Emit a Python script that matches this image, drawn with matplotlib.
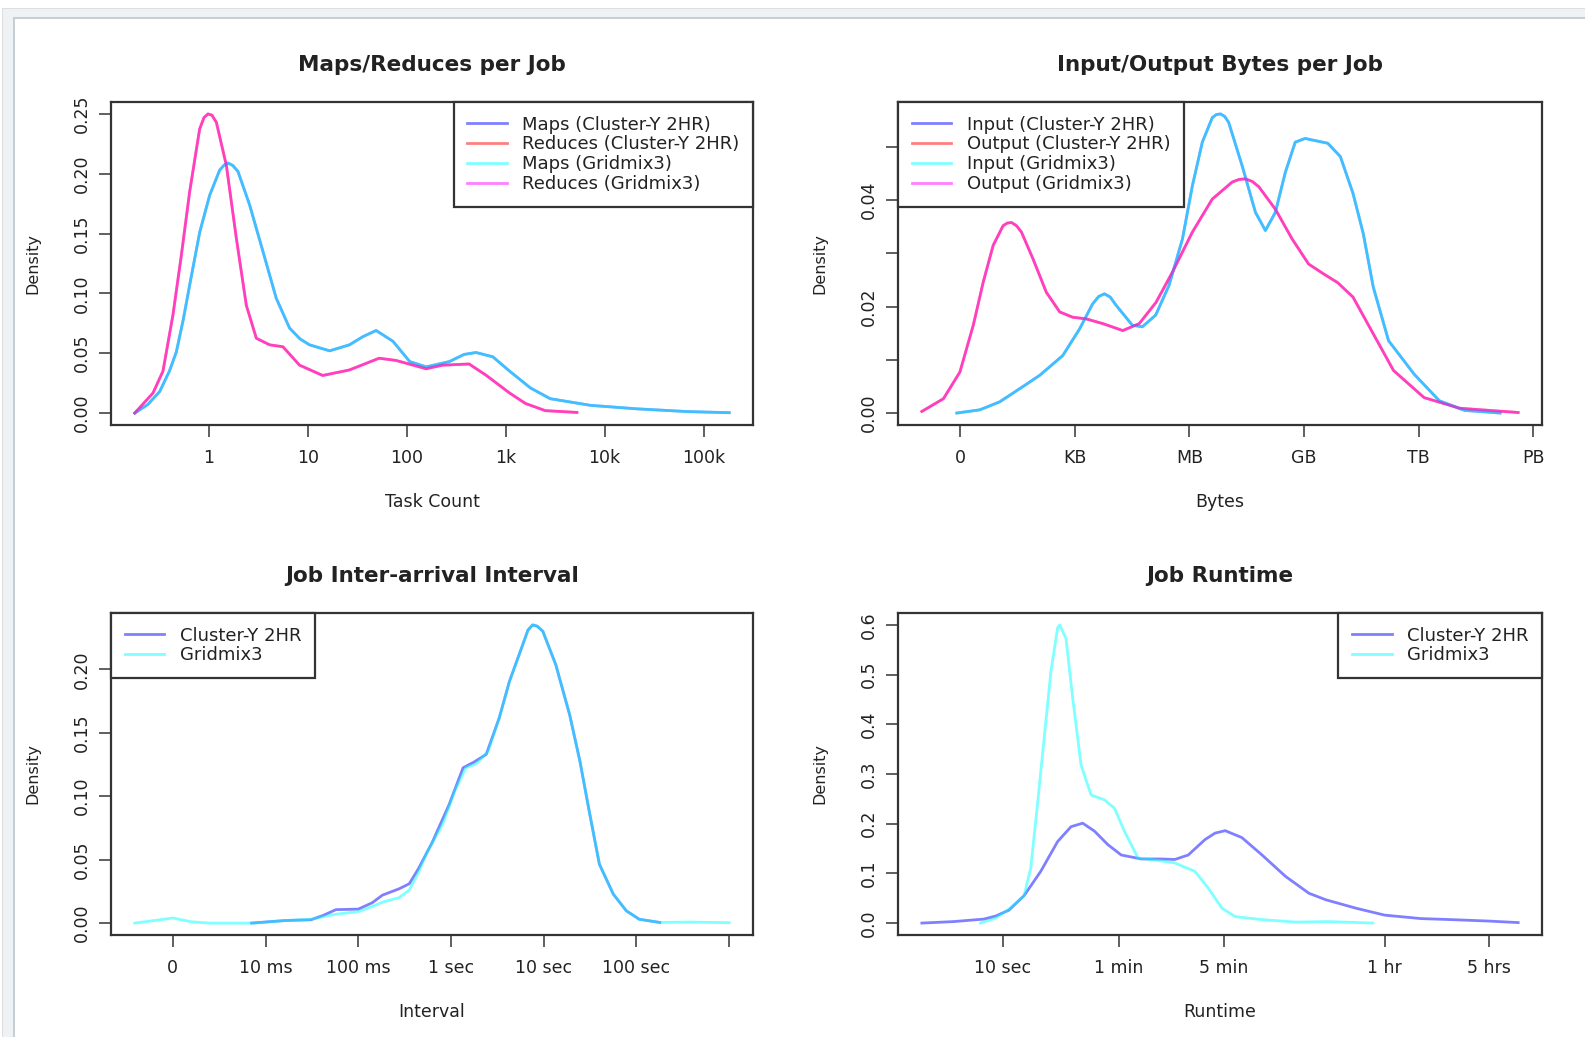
import matplotlib
matplotlib.use("Agg")
import matplotlib.pyplot as plt
from matplotlib.patches import Rectangle
import numpy as np

# Maps/Reduces per Job  (x = log10 of task count)
maps_x = [-0.75, -0.62, -0.498, -0.40, -0.33, -0.26, -0.195, -0.094, 0.007, 0.108, 0.15,
          0.192, 0.24, 0.293, 0.411, 0.546, 0.68, 0.815, 0.92, 1.017, 1.22, 1.42, 1.56, 1.69,
          1.86, 2.03, 2.196, 2.43, 2.58, 2.70, 2.87, 3.04, 3.25, 3.45, 3.86, 4.33, 4.84, 5.26]
maps_y = [0.0, 0.007, 0.018, 0.035, 0.051, 0.078, 0.107, 0.151, 0.182, 0.203, 0.207,
          0.209, 0.207, 0.202, 0.174, 0.135, 0.096, 0.071, 0.062, 0.057, 0.052, 0.057, 0.064, 0.069,
          0.060, 0.043, 0.0386, 0.043, 0.049, 0.0506, 0.047, 0.035, 0.021, 0.012, 0.0064, 0.0035,
          0.0012, 0.0003]
reduces_x = [-0.75, -0.566, -0.465, -0.364, -0.279, -0.195, -0.094, -0.05, -0.01, 0.03,
             0.075, 0.176, 0.277, 0.378, 0.479, 0.614, 0.748, 0.916, 1.15, 1.42, 1.72, 1.89,
             2.196, 2.36, 2.63, 2.80, 3.04, 3.2, 3.4, 3.72]
reduces_y = [0.0, 0.0167, 0.035, 0.082, 0.132, 0.185, 0.2375, 0.247, 0.25, 0.249,
             0.243, 0.207, 0.146, 0.090, 0.0625, 0.057, 0.0554, 0.040, 0.0314, 0.036, 0.0458,
             0.044, 0.037, 0.040, 0.041, 0.0317, 0.0167, 0.008, 0.002, 0.0005]
task_ticks = [0, 1, 2, 3, 4, 5]
task_labels = ["1", "10", "100", "1k", "10k", "100k"]

# Input/Output Bytes per Job  (x = log10 of bytes)
input_x = [-0.08, 0.52, 1.04, 1.57, 2.09, 2.69, 3.13, 3.47, 3.63, 3.78, 3.93, 4.08, 4.51,
           4.77, 5.12, 5.47, 5.82, 6.08, 6.34, 6.6, 6.71, 6.82, 6.93, 7.03, 7.38, 7.73, 7.99,
           8.25, 8.51, 8.77, 9.03, 9.22, 9.62, 9.95, 10.28, 10.55, 10.81, 11.21, 11.88, 12.54,
           13.2, 14.13]
input_y = [0.0, 0.0006, 0.0021, 0.0046, 0.0071, 0.0108, 0.0158, 0.0205, 0.0219, 0.0224,
           0.0218, 0.0203, 0.0165, 0.0162, 0.0184, 0.024, 0.0327, 0.0427, 0.0509, 0.0555,
           0.0561, 0.0562, 0.0557, 0.0546, 0.0465, 0.0377, 0.0343, 0.0377, 0.0452, 0.0509,
           0.0516, 0.0513, 0.0507, 0.0482, 0.0413, 0.0337, 0.0237, 0.0136, 0.0073, 0.0023,
           0.0005, 0.0]
output_x = [-0.995, -0.43, 0.0, 0.35, 0.61, 0.87, 1.13, 1.24, 1.35, 1.48, 1.61, 1.91, 2.26,
            2.61, 2.95, 3.3, 3.74, 4.26, 4.69, 5.13, 5.56, 6.08, 6.6, 7.12, 7.3, 7.47, 7.65,
            7.82, 8.25, 8.69, 9.12, 9.5, 9.88, 10.28, 10.81, 11.34, 12.14, 13.07, 14.6]
output_y = [0.0003, 0.0027, 0.0077, 0.0165, 0.0246, 0.0315, 0.0352, 0.0357, 0.0358, 0.0352,
            0.034, 0.029, 0.0227, 0.019, 0.018, 0.0177, 0.0168, 0.0155, 0.0168, 0.0208, 0.0265,
            0.034, 0.0402, 0.0434, 0.0439, 0.0440, 0.0435, 0.0425, 0.0383, 0.0327, 0.0280,
            0.0262, 0.0245, 0.0218, 0.0149, 0.0080, 0.0029, 0.0009, 0.0001]
byte_ticks = [0, 3, 6, 9, 12, 15]
byte_labels = ["0", "KB", "MB", "GB", "TB", "PB"]

# Job Inter-arrival Interval  (x = log10 of milliseconds)
arr_cluster_x = [0.85, 1.21, 1.49, 1.62, 1.76, 2.0, 2.15, 2.26, 2.44, 2.55, 2.65, 2.8,
                 2.98, 3.13, 3.25, 3.38, 3.52, 3.63, 3.76, 3.83, 3.88, 3.93, 3.99, 4.13,
                 4.28, 4.39, 4.49, 4.6, 4.75, 4.89, 5.03, 5.25]
arr_cluster_y = [0.0, 0.002, 0.0026, 0.006, 0.0106, 0.011, 0.016, 0.022, 0.027, 0.031,
                 0.043, 0.064, 0.0935, 0.1224, 0.127, 0.133, 0.1617, 0.1905, 0.2167, 0.231,
                 0.235, 0.234, 0.23, 0.2036, 0.164, 0.1276, 0.0883, 0.0464, 0.0228, 0.0097,
                 0.003, 0.0005]
arr_grid_x = [-0.41, -0.2, 0.0, 0.2, 0.4, 0.88, 1.21, 1.49, 1.62, 1.76, 2.0, 2.15, 2.26,
              2.44, 2.55, 2.65, 2.73, 2.91, 3.04, 3.16, 3.27, 3.4, 3.52, 3.63, 3.76, 3.83,
              3.88, 3.93, 3.99, 4.13, 4.28, 4.39, 4.49, 4.6, 4.75, 4.89, 5.03, 5.25, 5.57, 6.0]
arr_grid_y = [0.0, 0.002, 0.004, 0.001, 0.0, 0.0, 0.002, 0.003, 0.005, 0.007, 0.009, 0.013,
              0.0165, 0.020, 0.026, 0.040, 0.054, 0.078, 0.104, 0.1224, 0.1255, 0.1355,
              0.1617, 0.1905, 0.2167, 0.231, 0.235, 0.234, 0.23, 0.2036, 0.164, 0.1276,
              0.0883, 0.0464, 0.0228, 0.0097, 0.003, 0.0005, 0.0008, 0.0003]
arr_ticks = [0, 1, 2, 3, 4, 5, 6]
arr_labels = ["0", "10 ms", "100 ms", "1 sec", "10 sec", "100 sec", ""]

# Job Runtime  (x = log10 of seconds)
rt_cluster_x = [0.457, 0.67, 0.872, 0.95, 1.04, 1.141, 1.253, 1.366, 1.456, 1.534, 1.613,
                1.702, 1.792, 1.927, 2.061, 2.151, 2.241, 2.353, 2.42, 2.488, 2.6, 2.735,
                2.892, 3.049, 3.161, 3.363, 3.556, 3.8, 4.0, 4.255, 4.45]
rt_cluster_y = [0.0, 0.003, 0.008, 0.014, 0.026, 0.055, 0.104, 0.164, 0.194, 0.201, 0.185,
                0.158, 0.137, 0.129, 0.129, 0.128, 0.137, 0.168, 0.181, 0.186, 0.172, 0.137,
                0.094, 0.060, 0.047, 0.030, 0.016, 0.009, 0.007, 0.004, 0.001]
rt_grid_x = [0.85, 0.95, 1.04, 1.141, 1.186, 1.231, 1.276, 1.321, 1.366, 1.38, 1.422,
             1.467, 1.523, 1.59, 1.68, 1.747, 1.815, 1.904, 2.017, 2.151, 2.286, 2.376,
             2.466, 2.555, 2.735, 2.959, 3.184, 3.476]
rt_grid_y = [0.0, 0.01, 0.028, 0.055, 0.11, 0.238, 0.372, 0.506, 0.594, 0.600, 0.573,
             0.453, 0.318, 0.258, 0.248, 0.231, 0.184, 0.131, 0.127, 0.121, 0.104, 0.070,
             0.030, 0.013, 0.007, 0.002, 0.003, 0.0]
rt_ticks = list(np.log10([10, 60, 300, 3600, 18000]))
rt_labels = ["10 sec", "1 min", "5 min", "1 hr", "5 hrs"]

W, H = 1585, 1037
fig = plt.figure(figsize=(W / 100, H / 100), dpi=100)
plt.rcParams['font.family'] = ['DejaVu Sans']
TXT = '#222222'


def px_rect(x0, y0, w, h, color):
    fig.add_artist(Rectangle((x0 / W, 1 - (y0 + h) / H), w / W, h / H,
                             transform=fig.transFigure, color=color, lw=0, zorder=-5))


# window frame of the screenshot
px_rect(2, 8, W, H, '#dedede')
px_rect(3, 9, W, H, '#eef2f5')
px_rect(13, 17, W, H, '#c6ced6')
px_rect(15, 19, W, H, 'white')


def make_ax(left, top, right, bottom):
    return fig.add_axes([left / W, 1 - bottom / H, (right - left) / W, (bottom - top) / H])


def r_style(ax, title, xlabel, xs, ys, xticks, xlabels, yticks, ylabels):
    allx = np.concatenate([np.asarray(v) for v in xs])
    ally = np.concatenate([np.asarray(v) for v in ys])
    dx = 0.04 * (allx.max() - allx.min())
    dy = 0.04 * (ally.max() - ally.min())
    ax.set_xlim(allx.min() - dx, allx.max() + dx)
    ax.set_ylim(ally.min() - dy, ally.max() + dy)
    ax.set_xticks(xticks)
    ax.set_xticklabels(xlabels)
    ax.set_yticks(yticks)
    ax.set_yticklabels(ylabels, rotation=90, va='center')
    ax.tick_params(axis='both', direction='out', length=8.5, width=1.2, color='#444444',
                   labelsize=12.5, labelcolor=TXT)
    ax.tick_params(axis='x', pad=9)
    ax.tick_params(axis='y', pad=6)
    for s in ax.spines.values():
        s.set_color('#333333')
        s.set_linewidth(1.6)
    ax.set_title(title, fontsize=15.5, fontweight='bold', color=TXT, pad=22)
    ax.set_xlabel(xlabel, fontsize=12.5, color=TXT)
    ax.set_ylabel('Density', fontsize=11.5, color=TXT)
    ax.xaxis.set_label_coords(0.5, -0.21)
    ax.yaxis.set_label_coords(-0.11, 0.5)


def r_legend(ax, loc):
    leg = ax.legend(loc=loc, borderaxespad=0, fancybox=False, framealpha=1,
                    edgecolor='#333333', fontsize=13, handlelength=2.2,
                    handletextpad=0.85, labelspacing=0.1, borderpad=0.75)
    leg.get_frame().set_linewidth(1.6)
    for t in leg.get_texts():
        t.set_color(TXT)


A = 0.5
LW = 2.0

# panel 1
ax1 = make_ax(111, 102, 753, 425)
ax1.plot(maps_x, maps_y, color='blue', alpha=A, lw=LW, label='Maps (Cluster-Y 2HR)')
ax1.plot(reduces_x, reduces_y, color='red', alpha=A, lw=LW, label='Reduces (Cluster-Y 2HR)')
ax1.plot(maps_x, maps_y, color='cyan', alpha=A, lw=LW, label='Maps (Gridmix3)')
ax1.plot(reduces_x, reduces_y, color='magenta', alpha=A, lw=LW, label='Reduces (Gridmix3)')
r_style(ax1, 'Maps/Reduces per Job', 'Task Count', [maps_x, reduces_x], [maps_y, reduces_y],
        task_ticks, task_labels, [0, 0.05, 0.10, 0.15, 0.20, 0.25],
        ['0.00', '0.05', '0.10', '0.15', '0.20', '0.25'])
r_legend(ax1, 'upper right')

# panel 2
ax2 = make_ax(898, 102, 1542, 425)
ax2.plot(input_x, input_y, color='blue', alpha=A, lw=LW, label='Input (Cluster-Y 2HR)')
ax2.plot(output_x, output_y, color='red', alpha=A, lw=LW, label='Output (Cluster-Y 2HR)')
ax2.plot(input_x, input_y, color='cyan', alpha=A, lw=LW, label='Input (Gridmix3)')
ax2.plot(output_x, output_y, color='magenta', alpha=A, lw=LW, label='Output (Gridmix3)')
r_style(ax2, 'Input/Output Bytes per Job', 'Bytes', [input_x, output_x], [input_y, output_y],
        byte_ticks, byte_labels, [0, 0.01, 0.02, 0.03, 0.04, 0.05],
        ['0.00', '', '0.02', '', '0.04', ''])
r_legend(ax2, 'upper left')

# panel 3
ax3 = make_ax(111, 613, 753, 935)
ax3.plot(arr_cluster_x, arr_cluster_y, color='blue', alpha=A, lw=LW, label='Cluster-Y 2HR')
ax3.plot(arr_grid_x, arr_grid_y, color='cyan', alpha=A, lw=LW, label='Gridmix3')
r_style(ax3, 'Job Inter-arrival Interval', 'Interval', [arr_cluster_x, arr_grid_x],
        [arr_cluster_y, arr_grid_y], arr_ticks, arr_labels,
        [0, 0.05, 0.10, 0.15, 0.20], ['0.00', '0.05', '0.10', '0.15', '0.20'])
r_legend(ax3, 'upper left')

# panel 4
ax4 = make_ax(898, 613, 1542, 935)
ax4.plot(rt_cluster_x, rt_cluster_y, color='blue', alpha=A, lw=LW, label='Cluster-Y 2HR')
ax4.plot(rt_grid_x, rt_grid_y, color='cyan', alpha=A, lw=LW, label='Gridmix3')
r_style(ax4, 'Job Runtime', 'Runtime', [rt_cluster_x, rt_grid_x], [rt_cluster_y, rt_grid_y],
        rt_ticks, rt_labels, [0, 0.1, 0.2, 0.3, 0.4, 0.5, 0.6],
        ['0.0', '0.1', '0.2', '0.3', '0.4', '0.5', '0.6'])
r_legend(ax4, 'upper right')

fig.savefig('out.png', dpi=100)
